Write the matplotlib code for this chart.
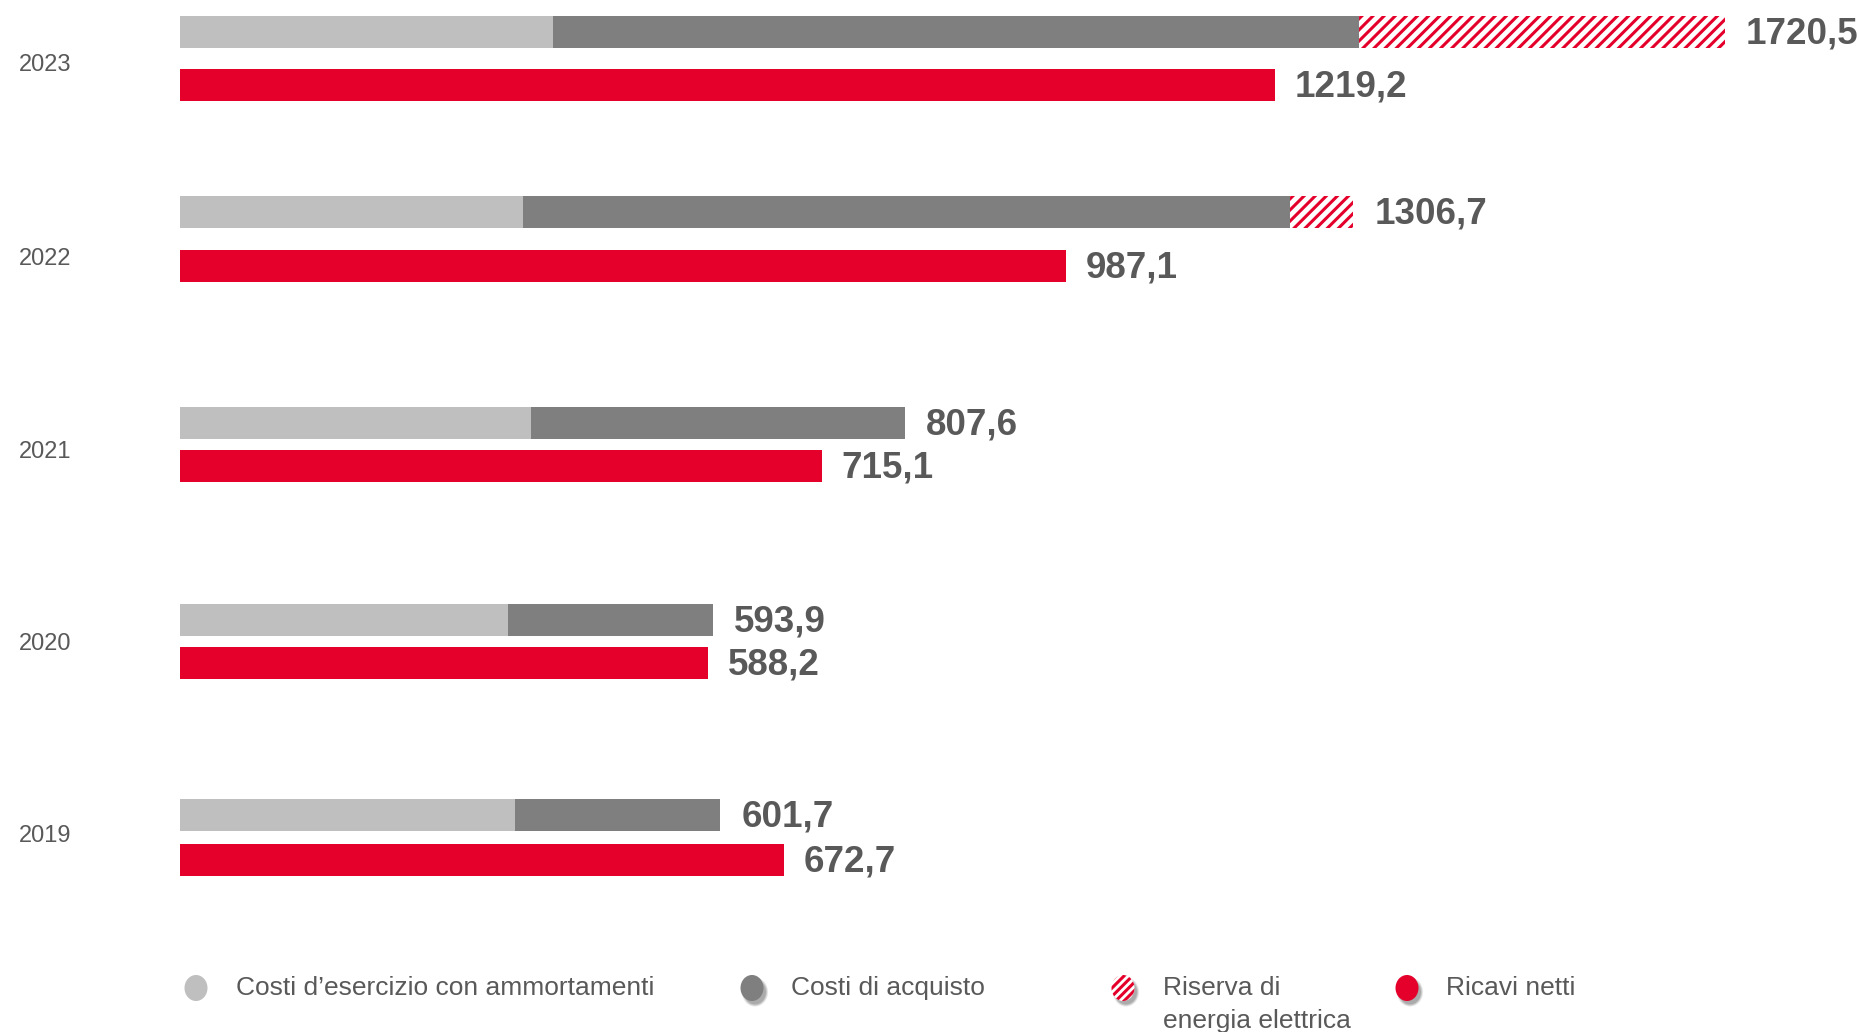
import matplotlib
matplotlib.use("Agg")
import matplotlib.pyplot as plt
from matplotlib.patches import Ellipse

plt.rcParams['font.family'] = ['Liberation Sans', 'DejaVu Sans']
plt.rcParams['hatch.linewidth'] = 2.2

# dati (mln EUR)
anni = ["2019", "2020", "2021", "2022", "2023"]
costi_esercizio = [372.9, 364.9, 391.3, 382.5, 415.2]
costi_acquisto = [228.8, 229.0, 416.3, 853.7, 898.0]
riserva_energia = [0.0, 0.0, 0.0, 70.5, 407.3]
costi_totali = [601.7, 593.9, 807.6, 1306.7, 1720.5]
ricavi_netti = [672.7, 588.2, 715.1, 987.1, 1219.2]

legenda = ["Costi d\u2019esercizio con ammortamenti", "Costi di acquisto",
           "Riserva di\nenergia elettrica", "Ricavi netti"]

# colori
C_LIGHT = "#bfbfbf"
C_DARK = "#7f7f7f"
C_RED = "#e4002b"
C_TXT = "#595959"

# layout (pixel)
W, H = 1859, 1032
X0 = 180           # inizio barre
SCALA = 0.898      # px per unita'
y_costi = [814.5, 620, 423.3, 212.2, 32]
y_ricavi = [859.6, 662.7, 466, 265.6, 85]
y_anni = [836.5, 644, 452, 259, 65]
h_bar = 32

fig = plt.figure(figsize=(W / 100, H / 100), dpi=100)
ax = fig.add_axes([0, 0, 1, 1])
ax.set_xlim(-X0 / SCALA, (W - X0) / SCALA)
ax.set_ylim(H, 0)
ax.axis("off")

left_dark = costi_esercizio
left_hatch = [a + b for a, b in zip(costi_esercizio, costi_acquisto)]

ax.barh(y_costi, costi_esercizio, height=h_bar, color=C_LIGHT, linewidth=0)
ax.barh(y_costi, costi_acquisto, left=left_dark, height=h_bar, color=C_DARK, linewidth=0)
ax.barh(y_costi, riserva_energia, left=left_hatch, height=h_bar, facecolor="white",
        edgecolor=C_RED, hatch="///", linewidth=0)
ax.barh(y_ricavi, ricavi_netti, height=h_bar, color=C_RED, linewidth=0)

fmt = lambda v: f"{v:.1f}".replace(".", ",")
for y, v in zip(y_costi, costi_totali):
    ax.annotate(fmt(v), (v, y), xytext=(15, -1.5), textcoords="offset points",
                ha="left", va="center", fontsize=26.5, fontweight="bold", color=C_TXT)
for y, v in zip(y_ricavi, ricavi_netti):
    ax.annotate(fmt(v), (v, y), xytext=(14, -1.5), textcoords="offset points",
                ha="left", va="center", fontsize=26.5, fontweight="bold", color=C_TXT)

tr = ax.get_yaxis_transform()
for y, a in zip(y_anni, anni):
    ax.text(19 / W, y, a, transform=tr, ha="left", va="center", fontsize=17, color=C_TXT)

# legenda manuale
lay = fig.add_axes([0, 0, 1, 1])
lay.set_xlim(0, W)
lay.set_ylim(H, 0)
lay.axis("off")
lay.patch.set_alpha(0)

ly = 988
mark_x = [196, 752, 1123, 1407]
text_x = [236, 791, 1163, 1446]
stili = [dict(facecolor=C_LIGHT), dict(facecolor=C_DARK),
         dict(facecolor="white", edgecolor=C_RED, hatch="////"), dict(facecolor=C_RED)]
for i, (mx, tx, lab, st) in enumerate(zip(mark_x, text_x, legenda, stili)):
    if i > 0:
        for k, a in enumerate([0.10, 0.12, 0.15]):
            lay.add_patch(Ellipse((mx + 3, ly + 4), 26 - 2 * k, 29 - 2 * k,
                                  facecolor="#000000", alpha=a, linewidth=0))
    lay.add_patch(Ellipse((mx, ly), 23, 26, linewidth=0, **st))
    righe = lab.split("\n")
    for j, r in enumerate(righe):
        lay.text(tx, ly + j * 33, r, ha="left", va="center", fontsize=19, color=C_TXT)

fig.savefig("out.png", dpi=100)
